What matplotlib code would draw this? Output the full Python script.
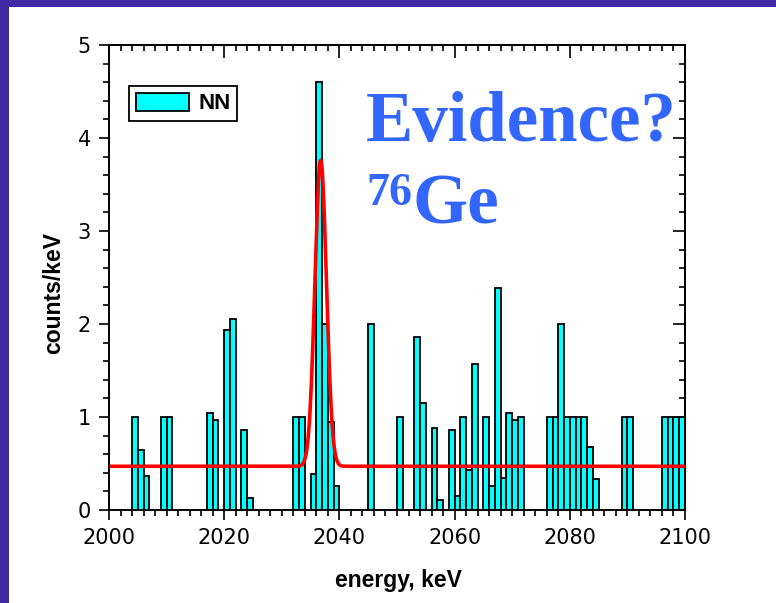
import numpy as np
import matplotlib
matplotlib.use('Agg')
import matplotlib.pyplot as plt
from matplotlib.ticker import MultipleLocator
from matplotlib.patches import Rectangle

# histogram data: lower bin edge (keV) and counts/keV, 1 keV bins
bin_start = [2004, 2005, 2006, 2009, 2010, 2017, 2018, 2020, 2021, 2023, 2024,
             2032, 2033, 2035, 2036, 2037, 2038, 2039, 2045, 2050, 2053, 2054,
             2056, 2057, 2059, 2060, 2061, 2062, 2063, 2065, 2066, 2067, 2068,
             2069, 2070, 2071, 2076, 2077, 2078, 2079, 2080, 2081, 2082, 2083,
             2084, 2089, 2090, 2096, 2097, 2098, 2099]
counts = [1.0, 0.65, 0.37, 1.0, 1.0, 1.04, 0.97, 1.94, 2.05, 0.86, 0.13,
          1.0, 1.0, 0.39, 4.6, 2.0, 0.95, 0.26, 2.0, 1.0, 1.86, 1.15,
          0.88, 0.11, 0.86, 0.15, 1.0, 0.43, 1.57, 1.0, 0.26, 2.39, 0.34,
          1.04, 0.97, 1.0, 1.0, 1.0, 2.0, 1.0, 1.0, 1.0, 1.0, 0.68,
          0.33, 1.0, 1.0, 1.0, 1.0, 1.0, 1.0]

# fit: flat background + gaussian line
fit_bkg = 0.47
fit_amp = 3.29
fit_mu = 2036.75
fit_sigma = 1.0
fit_range = [2000.5, 2100]

x_ticks = [2000, 2020, 2040, 2060, 2080, 2100]
y_ticks = [0, 1, 2, 3, 4, 5]

purple = '#4129A3'
blue = '#3366FF'

fig = plt.figure(figsize=(7.76, 6.03), dpi=100)
fig.patch.set_facecolor('white')

# slide border (left and top)
fig.patches.append(Rectangle((0, 0), 9 / 776, 1, transform=fig.transFigure,
                             facecolor=purple, edgecolor='none'))
fig.patches.append(Rectangle((0, 1 - 7 / 603), 1, 7 / 603, transform=fig.transFigure,
                             facecolor=purple, edgecolor='none'))

ax = fig.add_axes([109 / 776, 93 / 603, 576 / 776, 465 / 603])

ax.bar(bin_start, counts, width=1.0, align='edge', color='#00FFFF',
       edgecolor='black', linewidth=1.3, label='NN', zorder=2)

xf = np.linspace(fit_range[0], fit_range[1], 2000)
yf = fit_bkg + fit_amp * np.exp(-(xf - fit_mu) ** 2 / (2 * fit_sigma ** 2))
ax.plot(xf, yf, color='#FF0000', linewidth=2.6, zorder=3)

ax.set_xlim(2000, 2100)
ax.set_ylim(0, 5)
ax.set_xticks(x_ticks)
ax.set_yticks(y_ticks)
ax.xaxis.set_minor_locator(MultipleLocator(2))
ax.yaxis.set_minor_locator(MultipleLocator(0.2))

for s in ax.spines.values():
    s.set_linewidth(1.4)

ax.tick_params(which='both', direction='out', width=1.2, top=False, right=False,
               labelsize=15, pad=6)
ax.tick_params(which='major', length=7)
ax.tick_params(which='minor', length=4)

# inward ticks on top and right
sx = ax.secondary_xaxis('top')
sx.set_xticks(x_ticks)
sx.xaxis.set_minor_locator(MultipleLocator(2))
sx.tick_params(which='both', direction='in', width=1.2, labeltop=False)
sx.tick_params(which='major', length=9)
sx.tick_params(which='minor', length=4)
sx.spines['top'].set_linewidth(1.4)

sy = ax.secondary_yaxis('right')
sy.set_yticks(y_ticks)
sy.yaxis.set_minor_locator(MultipleLocator(0.2))
sy.tick_params(which='both', direction='in', width=1.2, labelright=False)
sy.tick_params(which='major', length=9)
sy.tick_params(which='minor', length=4)
sy.spines['right'].set_linewidth(1.4)

leg = ax.legend(loc='upper left', bbox_to_anchor=(0.035, 0.912), borderaxespad=0,
                fancybox=False, edgecolor='black', framealpha=1,
                handlelength=2.4, handleheight=0.9, handletextpad=0.4,
                borderpad=0.3,
                prop={'family': 'Liberation Sans', 'weight': 'bold', 'size': 16})
leg.get_frame().set_linewidth(1.3)

fig.text(398 / 776, 1 - 587 / 603, 'energy, keV', ha='center', va='baseline',
         family='Liberation Sans', weight='bold', fontsize=16.5)
fig.text(54 / 776, 1 - 293 / 603, 'counts/keV', ha='center', va='center',
         rotation=90, family='Liberation Sans', weight='bold', fontsize=16.5)

fig.text(366 / 776, 1 - 141 / 603, 'Evidence?', ha='left', va='baseline',
         family='Liberation Serif', weight='bold', fontsize=51, color=blue)
fig.text(366 / 776, 1 - 205 / 603, '76', ha='left', va='baseline',
         family='Liberation Serif', weight='bold', fontsize=33, color=blue)
fig.text(412 / 776, 1 - 224 / 603, 'Ge', ha='left', va='baseline',
         family='Liberation Serif', weight='bold', fontsize=51, color=blue)

fig.savefig('out.png', dpi=100)
